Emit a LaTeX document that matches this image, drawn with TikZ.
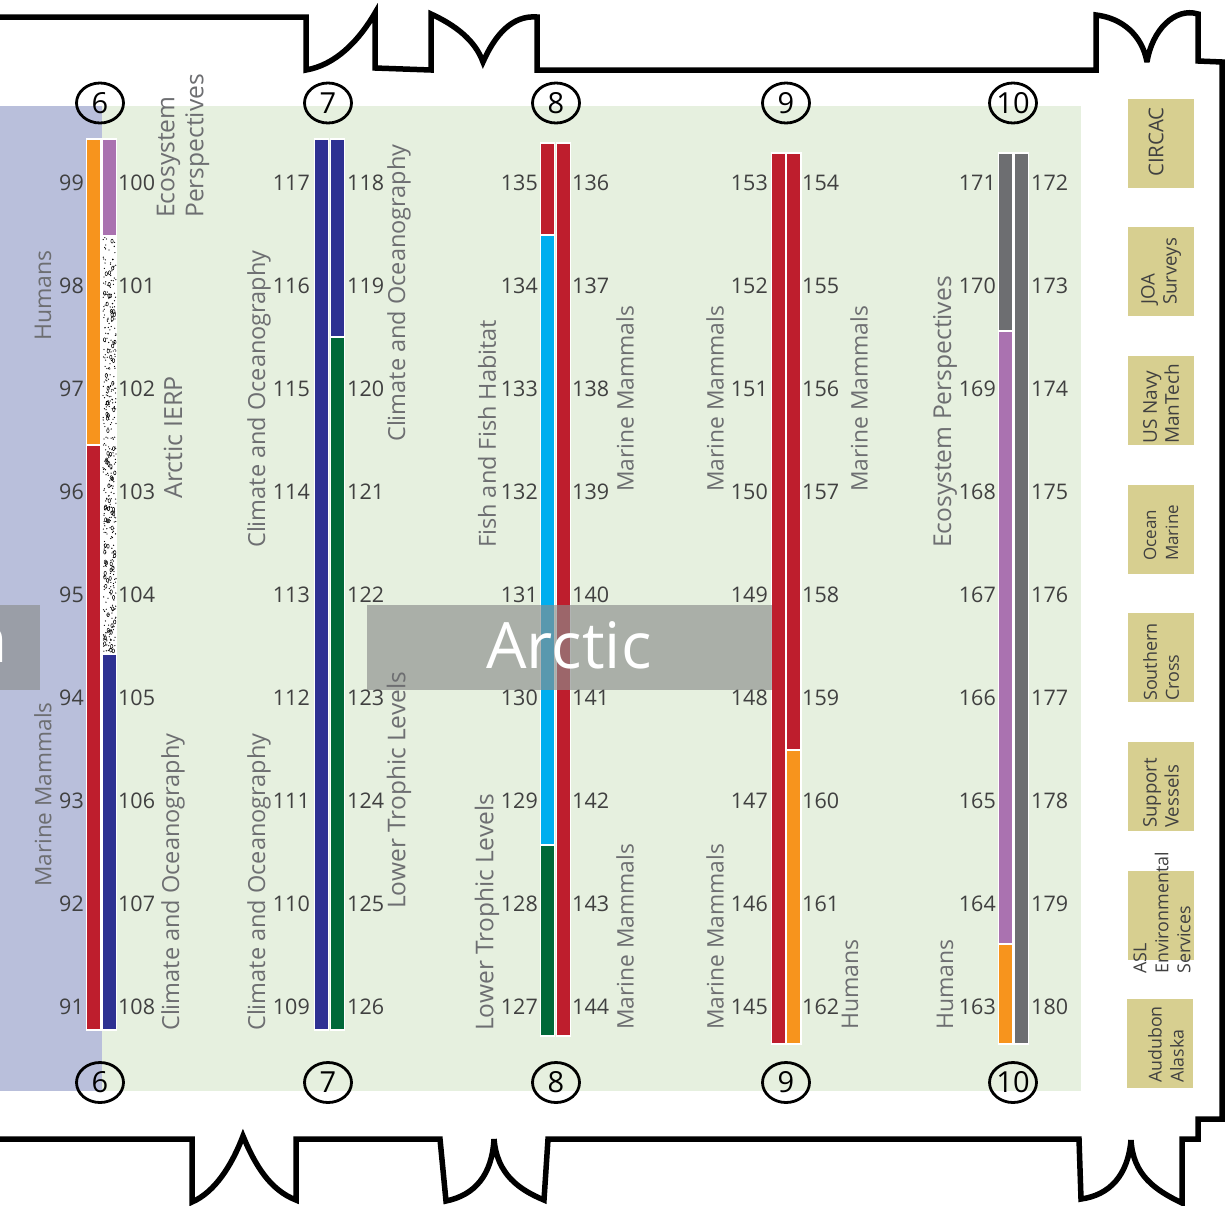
\documentclass[tikz,border=0pt]{standalone}
\usepackage{fontspec}
\setmainfont{Open Sans}
\usetikzlibrary{shapes.geometric}
\definecolor{SeaBlue}{RGB}{185,191,219}
\definecolor{SeaGreen}{RGB}{230,240,223}
\definecolor{Hum}{RGB}{247,148,29}
\definecolor{Mam}{RGB}{190,30,45}
\definecolor{Eco}{RGB}{170,114,176}
\definecolor{Cli}{RGB}{46,49,146}
\definecolor{Low}{RGB}{0,104,56}
\definecolor{Fis}{RGB}{0,174,239}
\definecolor{Gry}{RGB}{109,110,113}
\definecolor{Khaki}{RGB}{215,207,144}
\definecolor{Veil}{RGB}{138,141,140}
\tikzset{
  wall/.style={draw=black,line width=5.5pt,line join=miter,miter limit=4},
  seg/.style={draw=white,line width=1.2pt},
  zone/.style={ellipse,draw=black,line width=2.8pt,minimum width=47pt,minimum height=40pt,
               inner sep=0pt,font=\fontsize{29}{29}\selectfont},
  num/.style={inner sep=0pt,text=black!75,font=\fontsize{21.5}{21.5}\selectfont},
  topic/.style={rotate=90,anchor=west,inner sep=0pt,align=left,text=Gry},
  ship/.style={fill=Khaki,minimum width=66pt,minimum height=89pt,inner sep=0pt},
  shiptxt/.style={rotate=90,anchor=west,inner sep=0pt,align=left,text=black!75},
  veil/.style={fill=Veil,fill opacity=0.65,inner sep=0pt},
}
\begin{document}
\begin{tikzpicture}[x=1pt,y=-1pt]
  \useasboundingbox (0,0) rectangle (1228,1205);
  \clip (0,0) rectangle (1228,1205);
  % sea regions
  \fill[SeaBlue] (0,106) rectangle (102,1091);
  \fill[SeaGreen] (102,106) rectangle (1081,1091);
  % outer wall
  \draw[wall] (-5,17) -- (306,17) -- (306,70) .. controls (335,65) and (358,42) .. (375,13)
    -- (375,68) -- (431,70) -- (431,14) .. controls (455,25) and (475,40) .. (483,62)
    .. controls (495,35) and (512,15) .. (537,17) -- (537,70) -- (1096,70) -- (1096,15)
    .. controls (1122,18) and (1142,35) .. (1147,62) .. controls (1152,30) and (1175,7) .. (1198,14)
    -- (1198,61) -- (1222,62) -- (1222,1119) -- (1198,1119) -- (1198,1139) -- (1182,1139) -- (1182,1203)
    .. controls (1155,1190) and (1133,1175) .. (1131,1140) .. controls (1128,1175) and (1110,1195) .. (1081,1199)
    -- (1079,1139) -- (548,1139) -- (544,1200) .. controls (520,1190) and (497,1175) .. (494,1139)
    .. controls (492,1175) and (475,1195) .. (446,1201) -- (440,1139) -- (296,1139) -- (296,1200)
    .. controls (270,1190) and (255,1165) .. (243,1136) .. controls (232,1165) and (215,1192) .. (192,1202)
    -- (192,1139) -- (-5,1139);
  % corridor numbers
  \foreach \cx/\lab in {100/6,328/7,556/8,786/9,1013/10}{
    \node[zone] (top\lab) at (\cx,103) {\lab};
    \node[zone] (bot\lab) at (\cx,1082.5) {\lab};
  }
  % bars
  \foreach \x/\ya/\yb/\col in {86.7/139/445/Hum,86.7/445/1030/Mam,
      102.4/139/236/Eco,102.4/654/1030/Cli,
      314.4/139/1030/Cli,330.4/139/337/Cli,330.4/337/1030/Low,
      540.4/143/235/Mam,540.4/235/845/Fis,540.4/845/1036/Low,556.1/143/1036/Mam,
      771.1/153/1044/Mam,786.7/153/750/Mam,786.7/750/1044/Hum,
      998.7/153/331/Gry,998.7/331/944/Eco,998.7/944/1044/Hum,1014.4/153/1044/Gry}{
    \path[seg,fill=\col] (\x,\ya) rectangle ({\x+14.2},\yb);
  }
  % stippled bar
  \path[seg,fill=white] (102.4,236) rectangle (116.6,654);
  \pgfmathsetseed{42}
  \foreach \k in {1,...,380}{
    \fill[black] ({103+13*rnd},{237+416*rnd}) circle (0.65);
  }
  \foreach \k in {1,...,80}{
    \draw[black,line width=0.5pt] ({104.5+10.5*rnd},{239+412*rnd}) ellipse (1.2 and 2);
  }
  % veils
  \node[veil,minimum width=405pt,minimum height=85pt] (veilB) at (569.5,647.5) {};
  \node[veil,minimum width=40pt,minimum height=85pt] (veilA) at (20,647.5) {};
  \node[text=white,inner sep=0pt,font=\fontsize{64}{64}\selectfont] (arctic) at (569,645) {Arctic};
  \node[text=white,inner sep=0pt,anchor=east,font=\fontsize{64}{64}\selectfont] (cutoff) at (8,645) {n};
  % frame numbers
  \foreach \lx/\rx/\first in {84/118/99,310/347/117,538/572/135,768/802/153,996/1031/171}{
    \foreach \k in {0,...,8}{
      \pgfmathtruncatemacro{\nl}{\first-\k}
      \pgfmathtruncatemacro{\nr}{\first+1+\k}
      \node[num,anchor=east] (f\nl) at (\lx,{183+103*\k}) {\nl};
      \node[num,anchor=west] (f\nr) at (\rx,{183+103*\k}) {\nr};
    }
  }
  % topic labels
  \foreach \x/\y/\sz/\txt [count=\i] in {
      43/341/23/Humans,43/887/22.6/Marine Mammals,
      183/218/24.6/Ecosystem\\Perspectives,173/499/25/Arctic IERP,173/1031/23.5/Climate and Oceanography,
      259/548/23.5/Climate and Oceanography,259/1031/23.5/Climate and Oceanography,
      399/442/23.5/Climate and Oceanography,399/909/24.5/Lower Trophic Levels,
      487/548/23.5/Fish and Fish Habitat,487/1031/24.5/Lower Trophic Levels,
      625/492/22.8/Marine Mammals,625/1030/22.8/Marine Mammals,
      715/492/22.8/Marine Mammals,715/1030/22.8/Marine Mammals,
      859/492/22.8/Marine Mammals,850/1030/23/Humans,
      945/548/24.6/Ecosystem Perspectives,945/1030/23/Humans}{
    \node[topic,font=\fontsize{\sz}{29}\selectfont] (topic\i) at (\x,\y) {\txt};
  }
  % vessels
  \foreach \x/\y/\ty/\tx/\sz/\txt [count=\i] in {
      1161/143.5/177/1156/20.4/CIRCAC,
      1161/271.5/305/1161/18.6/JOA\\Surveys,
      1161/400.5/444/1161/19/US Navy\\ManTech,
      1161/529.5/561/1161/17/Ocean\\Marine,
      1161/657.5/701/1161/18/Southern\\Cross,
      1161/786.5/828/1161/18.6/Support\\Vessels,
      1161/915.5/974/1162/17.9/ASL\\Environmental\\Services,
      1160/1043.5/1083/1166/17.8/Audubon\\Alaska}{
    \node[ship] (ship\i) at (\x,\y) {};
    \node[shiptxt,font=\fontsize{\sz}{22}\selectfont] (shiptxt\i) at (\tx,\ty) {\txt};
  }
\end{tikzpicture}
\end{document}
